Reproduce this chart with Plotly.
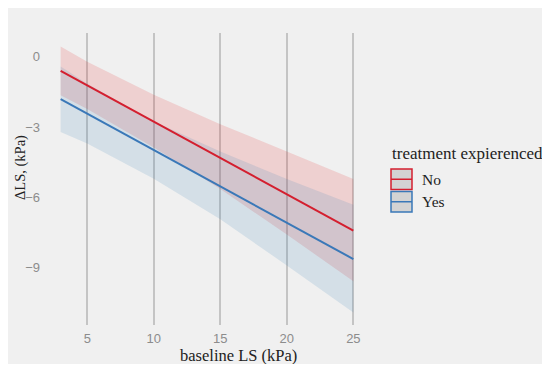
import plotly.graph_objects as go

# ---- data ----
x_line = [3, 25]
no_fit = [-0.60, -7.43]
yes_fit = [-1.81, -8.65]

x_band = [3, 5, 10, 15, 20, 25]
no_upper = [0.44, -0.21, -1.62, -2.88, -4.05, -5.23]
no_lower = [-1.64, -2.23, -3.88, -5.65, -7.60, -9.60]
yes_upper = [-0.41, -1.15, -2.77, -4.05, -5.22, -6.33]
yes_lower = [-3.21, -3.71, -5.21, -6.95, -8.92, -10.93]

x_ticks = [5, 10, 15, 20, 25]
y_ticks = [0, -3, -6, -9]
y_ticklabels = ["0", "\u22123", "\u22126", "\u22129"]

groups = ["No", "Yes"]
legend_title = "treatment expierenced"
x_title = "baseline LS (kPa)"
y_title = "\u0394LS, (kPa)"

RED = "#d41f2f"
BLUE = "#3a78b8"
RED_FILL = "rgba(228,26,28,0.15)"
BLUE_FILL = "rgba(55,126,184,0.15)"
BG = "#f0f0f0"
SERIF = "Liberation Serif, DejaVu Serif, serif"
SANS = "Liberation Sans, Arial, sans-serif"

fig = go.Figure()

def band(upper, lower, fill):
    fig.add_trace(go.Scatter(
        x=x_band + x_band[::-1], y=upper + lower[::-1],
        fill="toself", fillcolor=fill, line=dict(width=0),
        mode="lines", hoverinfo="skip", showlegend=False))

band(no_upper, no_lower, RED_FILL)
band(yes_upper, yes_lower, BLUE_FILL)

fig.add_trace(go.Scatter(x=x_line, y=no_fit, mode="lines",
                         line=dict(color=RED, width=2), showlegend=False))
fig.add_trace(go.Scatter(x=x_line, y=yes_fit, mode="lines",
                         line=dict(color=BLUE, width=2), showlegend=False))

OFF = 8  # page body margin
W, H = 537, 356
L, R, T, B = 46 - OFF, 368 - OFF, 33 - OFF, 325 - OFF
pw, ph = R - L, B - T

def px(xs):
    return (xs - OFF - L) / pw

def py(ys):
    return (B - (ys - OFF)) / ph

shapes = []
annotations = []

# manual legend
keys = [(groups[0], RED, 169, 189.5), (groups[1], BLUE, 191.5, 212)]
for name, col, top, bot in keys:
    shapes.append(dict(type="rect", xref="paper", yref="paper",
                       x0=px(391), x1=px(412), y0=py(bot), y1=py(top),
                       fillcolor="#d3d3d3", line=dict(color=col, width=1.5)))
    mid = (top + bot) / 2
    shapes.append(dict(type="line", xref="paper", yref="paper",
                       x0=px(391), x1=px(412), y0=py(mid), y1=py(mid),
                       line=dict(color=col, width=1.5)))
    annotations.append(dict(xref="paper", yref="paper", x=px(420), y=py(mid),
                            text=name, showarrow=False, xanchor="left",
                            yanchor="middle",
                            font=dict(family=SERIF, size=15.5, color="#222")))

annotations.append(dict(xref="paper", yref="paper", x=px(390), y=py(153),
                        text=legend_title, showarrow=False, xanchor="left",
                        yanchor="middle",
                        font=dict(family=SERIF, size=17, color="#222")))
annotations.append(dict(xref="paper", yref="paper", x=px(238), y=py(355),
                        text=x_title, showarrow=False, xanchor="center",
                        yanchor="middle",
                        font=dict(family=SERIF, size=16.5, color="#222")))
annotations.append(dict(xref="paper", yref="paper", x=px(20), y=py(168),
                        text=y_title, showarrow=False, textangle=-90,
                        xanchor="center", yanchor="middle",
                        font=dict(family=SERIF, size=14.5, color="#222")))

fig.update_layout(
    width=W, height=H,
    margin=dict(l=L, r=W - R, t=T, b=H - B),
    paper_bgcolor=BG,
    plot_bgcolor=BG,
    showlegend=False,
    shapes=shapes,
    annotations=annotations,
    xaxis=dict(range=[1.9, 26.1], tickvals=x_ticks, showgrid=True,
               gridcolor="#c4c4c4", gridwidth=1.5, zeroline=False,
               showline=False, ticks="", ticklabelstandoff=4,
               tickfont=dict(family=SANS, size=13, color="#8c8c8c")),
    yaxis=dict(range=[-11.47, 1.02], tickvals=y_ticks, ticktext=y_ticklabels,
               showgrid=False, zeroline=False, showline=False, ticks="",
               ticklabelstandoff=5,
               tickfont=dict(family=SANS, size=13, color="#8c8c8c")),
)

fig.write_html("out.html")
